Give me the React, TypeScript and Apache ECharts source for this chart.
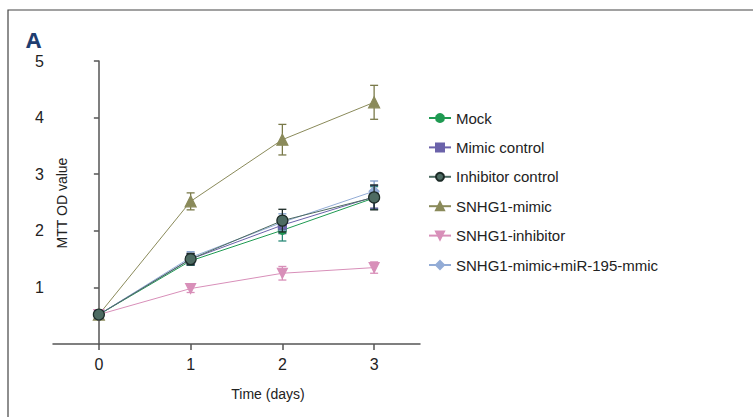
import React, { useEffect, useRef } from "react";
import * as echarts from "echarts";

const days = [0, 1, 2, 3];
const seriesNames = [
  "Mock",
  "Mimic control",
  "Inhibitor control",
  "SNHG1-mimic",
  "SNHG1-inhibitor",
  "SNHG1-mimic+miR-195-mmic",
];
const mockVals = [0.52, 1.47, 2.01, 2.58];
const mockErr = [0.05, 0.08, 0.19, 0.2];
const mimicCtrlVals = [0.52, 1.5, 2.1, 2.6];
const mimicCtrlErr = [0.05, 0.1, 0.15, 0.2];
const inhibCtrlVals = [0.52, 1.5, 2.18, 2.59];
const inhibCtrlErr = [0.05, 0.1, 0.2, 0.22];
const snhgMimicVals = [0.52, 2.52, 3.61, 4.27];
const snhgMimicErr = [0.05, 0.15, 0.27, 0.3];
const snhgInhibVals = [0.52, 0.98, 1.25, 1.35];
const snhgInhibErr = [0.05, 0.07, 0.12, 0.1];
const mirVals = [0.52, 1.53, 2.15, 2.7];
const mirErr = [0.05, 0.1, 0.15, 0.18];
const yTicks = [1, 2, 3, 4, 5];

const FONT = "'Liberation Sans', Arial, sans-serif";

export default function App() {
  const ref = useRef<HTMLDivElement>(null);
  useEffect(() => {
    if (!ref.current) return;
    const chart = echarts.init(ref.current, null, { renderer: "svg" });
    const specs = [
      { name: seriesNames[0], vals: mockVals, err: mockErr, color: "#1f9a52", border: "#1f9a52", errColor: "#2a8a78", symbol: "circle", size: 8, rotate: 0, z: 3 },
      { name: seriesNames[1], vals: mimicCtrlVals, err: mimicCtrlErr, color: "#6b62aa", border: "#6b62aa", errColor: "#4a4a8a", symbol: "rect", size: 8, rotate: 0, z: 4 },
      { name: seriesNames[2], vals: inhibCtrlVals, err: inhibCtrlErr, color: "#4d6b62", border: "#1c2b27", errColor: "#1c2b27", symbol: "circle", size: 11, rotate: 0, z: 7 },
      { name: seriesNames[3], vals: snhgMimicVals, err: snhgMimicErr, color: "#8a8a5a", border: "#8a8a5a", errColor: "#7a7a4a", symbol: "triangle", size: 11, rotate: 0, z: 3 },
      { name: seriesNames[4], vals: snhgInhibVals, err: snhgInhibErr, color: "#d88fb9", border: "#d88fb9", errColor: "#d88fb9", symbol: "triangle", size: 10, rotate: 180, z: 3 },
      { name: seriesNames[5], vals: mirVals, err: mirErr, color: "#93acd6", border: "#93acd6", errColor: "#7f9cc8", symbol: "diamond", size: 10, rotate: 0, z: 5 },
    ];
    const series: any[] = [];
    specs.forEach((s) => {
      series.push({
        type: "custom",
        name: s.name + " err",
        z: s.z - 1,
        encode: { x: 0, y: [1, 2] },
        data: days.map((d, i) => [d, s.vals[i] - s.err[i], s.vals[i] + s.err[i]]),
        renderItem: (params: any, api: any) => {
          const x = api.value(0);
          const lo = api.coord([x, api.value(1)]);
          const hi = api.coord([x, api.value(2)]);
          const w = 4;
          const style = { stroke: s.errColor, lineWidth: 1.3 };
          return {
            type: "group",
            children: [
              { type: "line", shape: { x1: lo[0], y1: lo[1], x2: hi[0], y2: hi[1] }, style },
              { type: "line", shape: { x1: hi[0] - w, y1: hi[1], x2: hi[0] + w, y2: hi[1] }, style },
              { type: "line", shape: { x1: lo[0] - w, y1: lo[1], x2: lo[0] + w, y2: lo[1] }, style },
            ],
          };
        },
      });
      series.push({
        type: "line",
        name: s.name,
        z: s.z,
        data: days.map((d, i) => [d, s.vals[i]]),
        symbol: s.symbol,
        symbolSize: s.size,
        symbolRotate: s.rotate,
        lineStyle: { color: s.color, width: 1 },
        itemStyle: { color: s.color, borderColor: s.border, borderWidth: 1.2 },
      });
    });
    chart.setOption({
      animation: false,
      grid: { left: 53, right: 333, top: 61, bottom: 73 },
      xAxis: {
        type: "value",
        min: -0.5,
        max: 3.5,
        splitLine: { show: false },
        axisLine: { lineStyle: { color: "#555", width: 1.5 } },
        axisTick: { customValues: days, length: 6, lineStyle: { color: "#555", width: 1.5 } },
        axisLabel: { customValues: days, color: "#222", fontSize: 16, fontFamily: FONT, margin: 12 },
      },
      yAxis: {
        type: "value",
        min: 0,
        max: 5,
        splitLine: { show: false },
        axisLine: { onZero: true, lineStyle: { color: "#555", width: 1.5 } },
        axisTick: { customValues: yTicks, length: 5, lineStyle: { color: "#555", width: 1.5 } },
        axisLabel: { customValues: yTicks, color: "#222", fontSize: 16, fontFamily: FONT, margin: 9 },
      },
      legend: {
        orient: "vertical",
        left: 428,
        top: 109,
        padding: 0,
        data: seriesNames,
        itemWidth: 22,
        itemHeight: 10,
        itemGap: 11.4,
        textStyle: { color: "#222", fontSize: 15, fontFamily: FONT, lineHeight: 18 },
      },
      graphic: [
        { type: "rect", shape: { x: 8, y: 10, width: 900, height: 600 }, style: { fill: "none", stroke: "#444", lineWidth: 1.2 }, silent: true },
        { type: "text", left: 26, top: 28, style: { text: "A", fill: "#1f3d70", font: "bold 22px 'Open Sans', sans-serif" } },
        { type: "text", x: 268, y: 394, style: { text: "Time (days)", fill: "#222", font: "14px " + FONT, align: "center", verticalAlign: "middle" } },
        { type: "text", x: 62, y: 203, rotation: Math.PI / 2, style: { text: "MTT OD value", fill: "#222", font: "14px " + FONT, align: "center", verticalAlign: "middle" } },
      ],
      series,
    });
    return () => chart.dispose();
  }, []);
  return <div ref={ref} style={{ position: "fixed", left: 0, top: 0, width: 753, height: 417, background: "#fff" }} />;
}
